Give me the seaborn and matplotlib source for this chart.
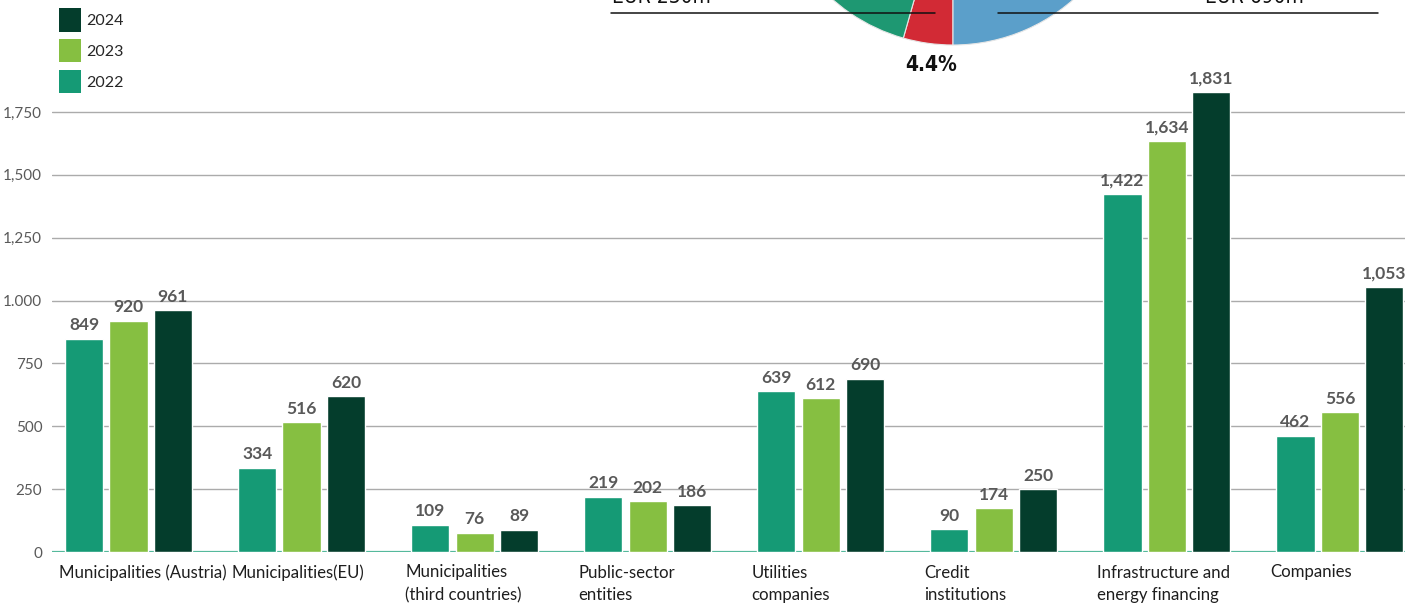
import matplotlib
matplotlib.use("Agg")
import matplotlib.pyplot as plt
from matplotlib.lines import Line2D
from matplotlib.patches import Patch
from matplotlib.transforms import ScaledTranslation
import numpy as np
import pandas as pd
import seaborn as sns

# ---- data -------------------------------------------------------------
categories = [
    "Municipalities (Austria)",
    "Municipalities(EU)",
    "Municipalities\n(third countries)",
    "Public-sector\nentities",
    "Utilities\ncompanies",
    "Credit\ninstitutions",
    "Infrastructure and\nenergy financing",
    "Companies",
]
years = ["2022", "2023", "2024"]
values_2022 = [849, 334, 109, 219, 639, 90, 1422, 462]
values_2023 = [920, 516, 76, 202, 612, 174, 1634, 556]
values_2024 = [961, 620, 89, 186, 690, 250, 1831, 1053]

y_ticks = [0, 250, 500, 750, 1000, 1250, 1500, 1750]
y_tick_labels = ["0", "250", "500", "750", "1.000", "1,250", "1,500", "1,750"]

# pie slices shown above the bar chart (shares in %)
pie_labels = ["EUR 230m", "EUR 690m", "other"]
pie_shares = [4.4, 13.2, 82.4]

# ---- styling ----------------------------------------------------------
year_colors = {"2022": "#159a75", "2023": "#86bf41", "2024": "#043d2c"}
pie_colors = ["#d22a35", "#5b9fca", "#1e9872"]
grid_color = "#ababab"
zero_color = "#55b99c"
text_gray = "#595959"
narrow = dict(family=["DejaVu Sans", "Liberation Sans"], stretch="condensed")

sns.set_theme(style="white")
plt.rcParams["font.family"] = ["Lato", "DejaVu Sans"]

W, H = 1405, 603
fig = plt.figure(figsize=(W / 100, H / 100), dpi=100)

df = pd.DataFrame({
    "category": np.repeat(categories, len(years)),
    "year": years * len(categories),
    "value": np.ravel(np.column_stack([values_2022, values_2023, values_2024])),
})

# main axes: 0 at y=552px, 1750 at y=112px
px_per_unit = 440 / 1750
y_top = 2000
ax_bottom = (H - 552) / H
ax_height = y_top * px_per_unit / H
ax_left = 52 / W
ax = fig.add_axes([ax_left, ax_bottom, 1 - ax_left, ax_height])

group_width = 0.77
sns.barplot(
    data=df, x="category", y="value", hue="year", hue_order=years,
    order=categories, palette=year_colors, width=group_width, gap=0.14,
    saturation=1, legend=False, ax=ax, zorder=3,
)

for cont in ax.containers:
    ax.bar_label(cont, fmt="{:,.0f}", padding=4, fontsize=12.5,
                 fontweight="bold", color=text_gray)

ax.set_xlim(-0.442, len(categories) - 1 + 0.376)
ax.set_ylim(0, y_top)
ax.set_yticks(y_ticks)
ax.set_yticklabels(y_tick_labels)
ax.set_xlabel("")
ax.set_ylabel("")
for s in ax.spines.values():
    s.set_visible(False)

for t in y_ticks[1:]:
    ax.axhline(t, color=grid_color, lw=1.0, zorder=1)
ax.axhline(0, color=zero_color, lw=1.6, zorder=2)

ax.tick_params(axis="y", length=0, pad=7, labelsize=11, labelcolor=text_gray)
ax.tick_params(axis="x", length=0, pad=9, labelsize=12.1, labelcolor="#1e1e1e")

# category labels left-aligned under each group
shift = ScaledTranslation(-(group_width / 2 * 173 + 3) / 100, 0, fig.dpi_scale_trans)
for lab in ax.get_xticklabels():
    lab.set_horizontalalignment("left")
    lab.set_linespacing(1.5)
    lab.set_transform(lab.get_transform() + shift)

# legend (newest year on top)
handles = [Patch(facecolor=year_colors[y], edgecolor="none") for y in years[::-1]]
fig.legend(
    handles, years[::-1], loc="upper left",
    bbox_to_anchor=(59 / W, 1 - 8 / H), bbox_transform=fig.transFigure,
    frameon=False, fontsize=11.5, handlelength=1.4, handleheight=1.9,
    handletextpad=0.3, labelspacing=0.45, borderpad=0, borderaxespad=0,
)

# pie fragment above the chart (centre lies above the figure top)
cx, cy, r = 953, -137, 182
pax = fig.add_axes([(cx - r) / W, (H - cy - r) / H, 2 * r / W, 2 * r / H])
start = 270 - pie_shares[0] * 3.6
wedge_text = [f"{pie_shares[0]:.1f}%", "", ""]
wedges, texts = pax.pie(
    pie_shares, colors=pie_colors, startangle=start, counterclock=True,
    labels=wedge_text, labeldistance=1.12, radius=1,
    wedgeprops=dict(edgecolor="#e6e6e6", linewidth=0.8),
    textprops=dict(fontsize=15, fontweight="bold", color="#111111", **narrow),
)
for t in texts:
    t.set_clip_on(False)
    t.set_horizontalalignment("center")
    t.set_transform(t.get_transform()
                    + ScaledTranslation(0.06, 0, fig.dpi_scale_trans))
pax.set_xlim(-1, 1)
pax.set_ylim(-1, 1)
pax.set_aspect("auto")
pax.axis("off")

# leader lines and amount labels
for x0, x1 in [(611, 935), (998, 1378)]:
    fig.add_artist(Line2D([x0 / W, x1 / W], [1 - 13 / H, 1 - 13 / H],
                          transform=fig.transFigure, color="#111111", lw=1.1,
                          zorder=10))
fig.text(612 / W, 1 - 3 / H, pie_labels[0], ha="left", va="baseline",
         fontsize=15, color="#111111", **narrow)
fig.text(1205 / W, 1 - 3 / H, pie_labels[1], ha="left", va="baseline",
         fontsize=15, color="#111111", **narrow)

fig.savefig("out.png", dpi=100)
